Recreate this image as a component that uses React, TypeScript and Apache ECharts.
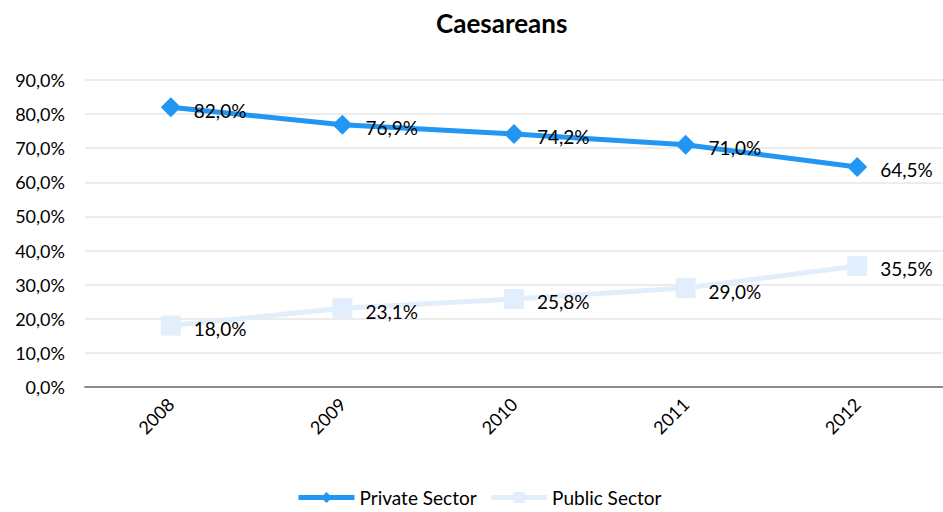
import React, { useEffect, useRef } from "react";
import * as echarts from "echarts";

const years = ["2008", "2009", "2010", "2011", "2012"];
const privateSector = [82.0, 76.9, 74.2, 71.0, 64.5];
const publicSector = [18.0, 23.1, 25.8, 29.0, 35.5];

const FONT = "Lato, 'Open Sans', sans-serif";
const fmt = (v: number) => v.toFixed(1).replace(".", ",") + "%";

export default function App() {
  const ref = useRef<HTMLDivElement>(null);
  useEffect(() => {
    if (!ref.current) return;
    const chart = echarts.init(ref.current, undefined, { renderer: "svg" });
    const labelCfg = {
      show: true,
      position: "right" as const,
      distance: 13,
      offset: [0, 3],
      color: "#000",
      fontSize: 19,
      fontFamily: FONT,
      formatter: (p: any) => fmt(p.value),
    };
    chart.setOption({
      animation: false,
      backgroundColor: "#fff",
      title: {
        text: "Caesareans",
        left: 431,
        top: 5,
        textStyle: { fontSize: 26, fontWeight: "bold", color: "#000", fontFamily: FONT },
      },
      grid: { left: 85, right: 0, top: 80, bottom: 125, containLabel: false },
      legend: {
        bottom: 0,
        left: 291,
        itemWidth: 56,
        itemHeight: 14,
        itemGap: 12,
        lineStyle: { width: 5 },
        textStyle: { fontSize: 19, color: "#000", fontFamily: FONT },
        data: ["Private Sector", "Public Sector"],
      },
      xAxis: {
        type: "category",
        data: years,
        boundaryGap: true,
        axisLine: { lineStyle: { color: "#8c8c8c", width: 2 } },
        axisTick: { show: false },
        axisLabel: { rotate: 45, fontSize: 18, color: "#000", fontFamily: FONT, margin: 14 },
      },
      yAxis: {
        type: "value",
        min: 0,
        max: 90,
        interval: 10,
        axisLine: { show: false },
        axisTick: { show: false },
        splitLine: { lineStyle: { color: "#e6e6e6", width: 1.5 } },
        axisLabel: {
          fontSize: 18,
          color: "#000",
          fontFamily: FONT,
          margin: 20,
          formatter: (v: number) => fmt(v),
        },
      },
      series: [
        {
          name: "Private Sector",
          type: "line",
          data: privateSector,
          symbol: "diamond",
          symbolSize: 20,
          itemStyle: { color: "#2196F3" },
          lineStyle: { color: "#2196F3", width: 5 },
          label: labelCfg,
        },
        {
          name: "Public Sector",
          type: "line",
          data: publicSector,
          symbol: "rect",
          symbolSize: 20,
          itemStyle: { color: "#E3EEFC" },
          lineStyle: { color: "#E3EEFC", width: 5 },
          label: labelCfg,
        },
      ],
    });
    return () => chart.dispose();
  }, []);
  return (
    <div
      ref={ref}
      style={{ position: "absolute", left: 0, top: 0, width: 943, height: 512 }}
    />
  );
}
